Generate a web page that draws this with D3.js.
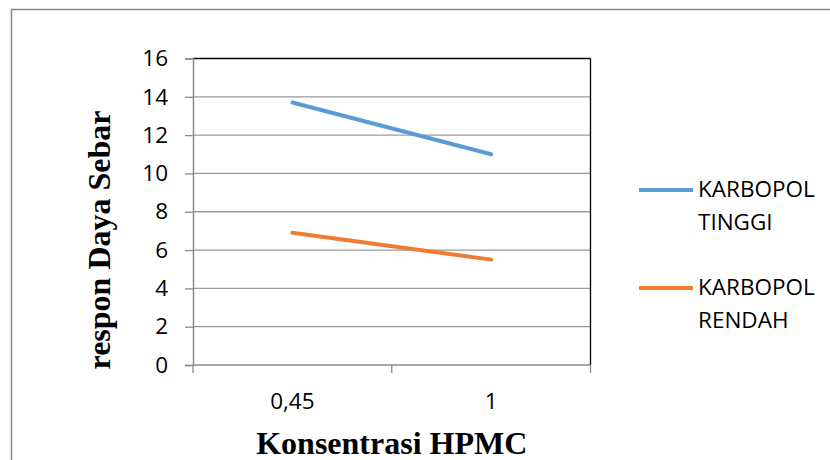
<!DOCTYPE html>
<html>
<head>
<meta charset="utf-8">
<script src="https://cdn.jsdelivr.net/npm/d3@7"></script>
<style>
  body { margin: 0; background: #fff; }
  svg { display: block; }
  .tick-label { font-family: "Open Sans", sans-serif; font-size: 22.5px; fill: #000; }
  .axis-title { font-family: "Liberation Serif", "Times New Roman", serif; font-weight: bold; font-size: 32px; fill: #000; }
</style>
</head>
<body>
<div id="chart"></div>
<script>
// data
const categories = ["0,45", "1"];
const seriesNames = ["KARBOPOL TINGGI", "KARBOPOL RENDAH"];
const tinggi = [13.7, 11.0];
const rendah = [6.9, 5.5];
const yTicks = [0, 2, 4, 6, 8, 10, 12, 14, 16];

let width = 830, height = 460;
let svg = d3.select("#chart").append("svg").attr("width", width).attr("height", height);

// outer chart border (runs off the right & bottom edges)
svg.append("rect")
  .attr("x", 11.5).attr("y", 9.5)
  .attr("width", 840).attr("height", 470)
  .style("fill", "none").style("stroke", "#888").style("stroke-width", 1.5);

let plot = { left: 193, right: 590.5, top: 58.5, bottom: 365 };

let x = d3.scaleBand().domain(categories).range([plot.left, plot.right]);
let y = d3.scaleLinear().domain([0, 16]).range([plot.bottom, plot.top]);

// gridlines
svg.append("g").selectAll("line").data(yTicks.filter(d => d > 0 && d < 16)).join("line")
  .attr("x1", plot.left).attr("x2", plot.right)
  .attr("y1", d => y(d)).attr("y2", d => y(d))
  .style("stroke", "#9a9a9a").style("stroke-width", 1.3);

// top and right frame lines
svg.append("line").attr("x1", plot.left).attr("x2", plot.right)
  .attr("y1", y(16)).attr("y2", y(16)).style("stroke", "#000").style("stroke-width", 1.3);
svg.append("line").attr("x1", plot.right).attr("x2", plot.right)
  .attr("y1", y(16)).attr("y2", y(0)).style("stroke", "#000").style("stroke-width", 1.3);

// y axis
let yaxis = d3.axisLeft(y).tickValues(yTicks).tickSize(8).tickPadding(17);
let yg = svg.append("g").attr("transform", "translate(" + plot.left + ",0)").call(yaxis)
  .attr("font-size", null).attr("font-family", null);
yg.select(".domain").style("stroke", "#8a8a8a").style("stroke-width", 1.5);
yg.selectAll(".tick line").style("stroke", "#8a8a8a").style("stroke-width", 1.3);
yg.selectAll(".tick text").attr("class", "tick-label");

// x axis (ticks at band edges, labels at band centres)
let xEdges = [plot.left].concat(categories.map(c => x(c) + x.bandwidth()));
let xg = svg.append("g");
xg.append("line").attr("x1", plot.left).attr("x2", plot.right)
  .attr("y1", y(0)).attr("y2", y(0)).style("stroke", "#8a8a8a").style("stroke-width", 1.5);
xg.selectAll("line.tk").data(xEdges).join("line").attr("class", "tk")
  .attr("x1", d => d).attr("x2", d => d)
  .attr("y1", y(0)).attr("y2", y(0) + 8)
  .style("stroke", "#8a8a8a").style("stroke-width", 1.3);
xg.selectAll("text").data(categories).join("text")
  .attr("class", "tick-label")
  .attr("x", d => x(d) + x.bandwidth() / 2)
  .attr("y", 409)
  .style("text-anchor", "middle")
  .text(d => d);

// axis titles
svg.append("text").attr("class", "axis-title")
  .attr("x", (plot.left + plot.right) / 2).attr("y", 454)
  .style("text-anchor", "middle").text("Konsentrasi HPMC");
svg.append("text").attr("class", "axis-title")
  .attr("transform", "translate(110,240) rotate(-90)")
  .style("text-anchor", "middle").text("respon Daya Sebar");

// lines
let colors = ["#5B9BD5", "#ED7D31"];
let line = d3.line().x((d, i) => x(categories[i]) + x.bandwidth() / 2).y(d => y(d));
[tinggi, rendah].forEach(function(s, i) {
  svg.append("path").attr("d", line(s))
    .style("fill", "none").style("stroke", colors[i])
    .style("stroke-width", 4).style("stroke-linecap", "round");
});

// legend
let legY = [190, 288];
seriesNames.forEach(function(name, i) {
  let g = svg.append("g").attr("transform", "translate(639," + legY[i] + ")");
  g.append("line").attr("x1", 0).attr("x2", 54)
    .style("stroke", colors[i]).style("stroke-width", 4);
  let words = name.split(" ");
  words.forEach(function(w, wi) {
    g.append("text").attr("class", "tick-label")
      .attr("x", 59).attr("y", 7 + wi * 33).text(w);
  });
});
</script>
</body>
</html>
